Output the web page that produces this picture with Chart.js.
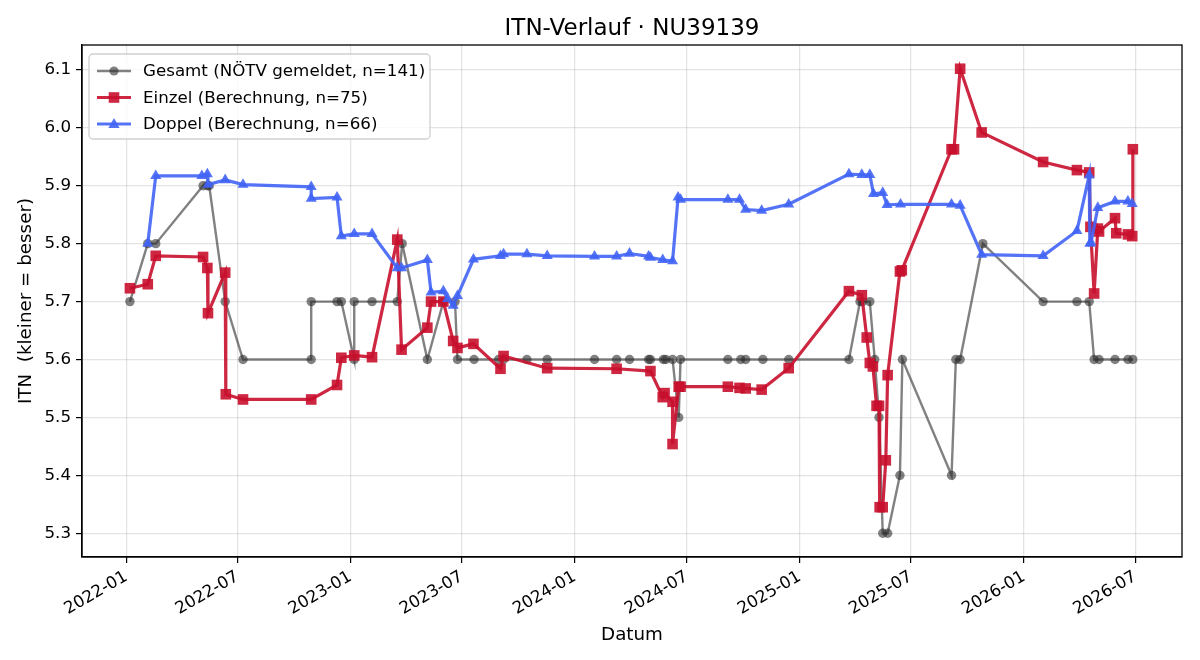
<!DOCTYPE html>
<html><head><meta charset="utf-8">
<script src="https://cdn.jsdelivr.net/npm/chart.js@4.4.0/dist/chart.umd.min.js"></script>
<style>html,body{margin:0;padding:0;background:#fff;}#wrap{width:1200px;height:660px;}</style>
</head><body><div id="wrap"><canvas id="c" width="1200" height="660"></canvas></div>
<script>
const gesamtDates = ['2022-01-07','2022-02-05','2022-02-18','2022-05-06','2022-05-13','2022-05-16','2022-06-11','2022-07-10','2022-10-29','2022-10-29','2022-12-10','2022-12-17','2023-01-07','2023-01-07','2023-02-05','2023-03-18','2023-03-26','2023-05-06','2023-06-01','2023-06-20','2023-06-24','2023-07-21','2023-08-30','2023-09-07','2023-10-15','2023-11-17','2024-02-02','2024-03-09','2024-03-30','2024-04-30','2024-05-03','2024-05-24','2024-05-28','2024-06-08','2024-06-18','2024-06-21','2024-09-06','2024-09-27','2024-10-05','2024-11-02','2024-12-14','2025-03-22','2025-04-09','2025-04-13','2025-04-25','2025-05-03','2025-05-10','2025-05-16','2025-05-24','2025-06-13','2025-06-17','2025-09-05','2025-09-12','2025-09-19','2025-10-26','2026-02-01','2026-03-28','2026-04-17','2026-04-25','2026-05-03','2026-05-29','2026-06-19','2026-06-27'];
const gesamtValues = [5.7,5.8,5.8,5.9,5.9,5.9,5.7,5.6,5.6,5.7,5.7,5.7,5.6,5.7,5.7,5.7,5.8,5.6,5.7,5.7,5.6,5.6,5.6,5.6,5.6,5.6,5.6,5.6,5.6,5.6,5.6,5.6,5.6,5.6,5.5,5.6,5.6,5.6,5.6,5.6,5.6,5.6,5.7,5.7,5.7,5.6,5.5,5.3,5.3,5.4,5.6,5.4,5.6,5.6,5.8,5.7,5.7,5.7,5.6,5.6,5.6,5.6,5.6];

const einzelDates = ['2022-01-07','2022-02-05','2022-02-18','2022-05-06','2022-05-13','2022-05-14','2022-06-11','2022-06-12','2022-07-10','2022-10-29','2022-12-10','2022-12-17','2023-01-07','2023-02-05','2023-03-18','2023-03-25','2023-05-06','2023-05-12','2023-06-01','2023-06-17','2023-06-24','2023-07-20','2023-09-02','2023-09-07','2023-11-17','2024-03-09','2024-05-03','2024-05-23','2024-05-26','2024-06-08','2024-06-08','2024-06-18','2024-06-21','2024-09-06','2024-09-25','2024-10-05','2024-10-31','2024-12-14','2025-03-22','2025-04-12','2025-04-20','2025-04-25','2025-04-30','2025-05-06','2025-05-10','2025-05-11','2025-05-16','2025-05-21','2025-05-24','2025-06-13','2025-06-16','2025-09-05','2025-09-09','2025-09-19','2025-10-24','2026-02-01','2026-03-28','2026-04-17','2026-04-19','2026-04-25','2026-05-01','2026-05-03','2026-05-29','2026-05-31','2026-06-19','2026-06-26','2026-06-27'];
const einzelValues = [5.723,5.730,5.779,5.777,5.758,5.680,5.750,5.540,5.531,5.531,5.556,5.603,5.607,5.604,5.807,5.617,5.655,5.700,5.700,5.632,5.620,5.627,5.584,5.606,5.585,5.584,5.580,5.535,5.542,5.527,5.454,5.553,5.553,5.553,5.551,5.550,5.548,5.585,5.718,5.711,5.638,5.594,5.588,5.520,5.520,5.345,5.345,5.426,5.573,5.752,5.754,5.963,5.963,6.102,5.992,5.941,5.927,5.923,5.829,5.714,5.826,5.821,5.844,5.818,5.816,5.813,5.963];

const doppelDates = ['2022-02-05','2022-02-18','2022-05-04','2022-05-13','2022-05-14','2022-06-11','2022-07-10','2022-10-29','2022-10-29','2022-12-10','2022-12-17','2023-01-07','2023-02-05','2023-03-18','2023-03-25','2023-05-06','2023-05-12','2023-06-01','2023-06-08','2023-06-17','2023-06-24','2023-07-20','2023-09-02','2023-09-07','2023-10-15','2023-11-17','2024-02-02','2024-03-09','2024-03-30','2024-04-30','2024-05-03','2024-05-23','2024-06-08','2024-06-17','2024-06-21','2024-09-06','2024-09-25','2024-10-05','2024-10-31','2024-12-14','2025-03-22','2025-04-12','2025-04-25','2025-05-01','2025-05-16','2025-05-23','2025-06-14','2025-09-05','2025-09-19','2025-10-24','2026-02-01','2026-03-28','2026-04-17','2026-04-18','2026-04-20','2026-05-01','2026-05-29','2026-06-19','2026-06-26'];
const doppelValues = [5.800,5.917,5.917,5.920,5.902,5.910,5.902,5.898,5.878,5.880,5.813,5.817,5.817,5.758,5.758,5.772,5.716,5.718,5.705,5.693,5.710,5.773,5.779,5.782,5.782,5.779,5.778,5.778,5.783,5.778,5.776,5.772,5.770,5.880,5.876,5.876,5.876,5.859,5.857,5.868,5.920,5.919,5.919,5.886,5.888,5.867,5.868,5.868,5.866,5.781,5.779,5.822,5.918,5.800,5.802,5.862,5.873,5.873,5.869];

const xTickLabels = ['2022-01','2022-07','2023-01','2023-07','2024-01','2024-07','2025-01','2025-07','2026-01','2026-07'];
const yTickValues = [5.3,5.4,5.5,5.6,5.7,5.8,5.9,6.0,6.1];
const seriesLabels = ['Gesamt (NÖTV gemeldet, n=141)','Einzel (Berechnung, n=75)','Doppel (Berechnung, n=66)'];

const FONT = 'DejaVu Sans';
const GREY = 'rgba(45,45,45,0.6)';
const RED = 'rgba(200,16,46,0.9)';
const BLUE = 'rgba(65,100,245,0.9)';

function pts(dates, vals){ return dates.map((d,i)=>({x: Date.parse(d), y: vals[i]})); }

const framePlugin = {
  id:'frame',
  afterDraw(chart){
    const ctx = chart.ctx, a = chart.chartArea;
    ctx.save();
    ctx.strokeStyle = '#000'; ctx.lineWidth = 1.3;
    ctx.strokeRect(a.left, a.top, a.right - a.left, a.bottom - a.top);
    // legend
    const x0 = a.left + 7, y0 = a.top + 9, w = 341, h = 85, r = 4;
    ctx.beginPath();
    ctx.moveTo(x0 + r, y0); ctx.lineTo(x0 + w - r, y0); ctx.arcTo(x0 + w, y0, x0 + w, y0 + r, r);
    ctx.lineTo(x0 + w, y0 + h - r); ctx.arcTo(x0 + w, y0 + h, x0 + w - r, y0 + h, r);
    ctx.lineTo(x0 + r, y0 + h); ctx.arcTo(x0, y0 + h, x0, y0 + h - r, r);
    ctx.lineTo(x0, y0 + r); ctx.arcTo(x0, y0, x0 + r, y0, r); ctx.closePath();
    ctx.fillStyle = 'rgba(255,255,255,0.8)'; ctx.fill();
    ctx.strokeStyle = '#d0d0d0'; ctx.lineWidth = 1.3; ctx.stroke();
    const rows = [y0 + 17, y0 + 43.5, y0 + 70];
    const cols = [GREY, RED, BLUE];
    const lws = [2.4, 3.2, 3.2];
    rows.forEach((yy, i) => {
      ctx.strokeStyle = cols[i]; ctx.lineWidth = lws[i];
      ctx.beginPath(); ctx.moveTo(x0 + 8, yy); ctx.lineTo(x0 + 42, yy); ctx.stroke();
      const mx = x0 + 25;
      ctx.fillStyle = cols[i];
      ctx.beginPath();
      if (i === 0) { ctx.arc(mx, yy, 4.6, 0, Math.PI * 2); }
      else if (i === 1) { ctx.rect(mx - 5.3, yy - 5.3, 10.6, 10.6); }
      else { ctx.moveTo(mx, yy - 6); ctx.lineTo(mx + 5.6, yy + 4); ctx.lineTo(mx - 5.6, yy + 4); ctx.closePath(); }
      ctx.fill();
      ctx.fillStyle = '#000'; ctx.font = '16.7px "' + FONT + '"';
      ctx.textBaseline = 'middle'; ctx.textAlign = 'left';
      ctx.fillText(seriesLabels[i], x0 + 54, yy + 1);
    });
    ctx.restore();
  }
};

new Chart(document.getElementById('c'), {
  type: 'line',
  data: {
    datasets: [
      { label: seriesLabels[0], data: pts(gesamtDates, gesamtValues), borderColor: GREY, backgroundColor: GREY,
        borderWidth: 2.4, pointStyle: 'circle', pointRadius: 4.7, pointBorderWidth: 0, pointBackgroundColor: GREY, order: 3, tension: 0 },
      { label: seriesLabels[1], data: pts(einzelDates, einzelValues), borderColor: RED, backgroundColor: RED,
        borderWidth: 3.2, pointStyle: 'rect', pointRadius: 7.5, pointBorderWidth: 0, pointBackgroundColor: RED, order: 2, tension: 0 },
      { label: seriesLabels[2], data: pts(doppelDates, doppelValues), borderColor: BLUE, backgroundColor: BLUE,
        borderWidth: 3.2, pointStyle: 'triangle', pointRadius: 6.4, pointBorderWidth: 0, pointBackgroundColor: BLUE, order: 1, tension: 0 }
    ]
  },
  options: {
    responsive: false, animation: false, devicePixelRatio: 1,
    layout: { padding: { left: 0, right: 18, top: 0, bottom: 0 } },
    plugins: {
      legend: { display: false },
      tooltip: { enabled: false },
      title: { display: true, fullSize: false, text: 'ITN-Verlauf · NU39139', color: '#000',
        font: { family: FONT, size: 23, weight: 'normal', lineHeight: 1.2 }, padding: { top: 15, bottom: 2.4 } }
    },
    scales: {
      x: {
        type: 'linear',
        min: Date.parse('2021-10-21'), max: Date.parse('2026-09-15'),
        afterBuildTicks: s => { s.ticks = xTickLabels.map(l => ({ value: Date.parse(l + '-01') })); },
        afterFit: s => { s.height = 103; },
        ticks: { autoSkip: false, minRotation: 30, maxRotation: 30, color: '#000', padding: 4,
          font: { family: FONT, size: 16.7 }, callback: (v, i) => xTickLabels[i] },
        grid: { color: 'rgba(176,176,176,0.35)', lineWidth: 1.2, tickColor: '#000', tickLength: 6, drawTicks: true },
        border: { display: true, color: '#000', width: 1.3 },
        title: { display: true, text: 'Datum', color: '#000', font: { family: FONT, size: 18.3 }, padding: { top: 0, bottom: 14 } }
      },
      y: {
        type: 'linear',
        min: 5.259, max: 6.143,
        afterBuildTicks: s => { s.ticks = yTickValues.map(v => ({ value: v })); },
        afterFit: s => { s.width = 82; },
        ticks: { color: '#000', padding: 5, font: { family: FONT, size: 16.7 }, callback: v => Number(v).toFixed(1) },
        grid: { color: 'rgba(176,176,176,0.35)', lineWidth: 1.2, tickColor: '#000', tickLength: 6, drawTicks: true },
        border: { display: true, color: '#000', width: 1.3 },
        title: { display: true, text: 'ITN  (kleiner = besser)', color: '#000', font: { family: FONT, size: 18.3 }, padding: { top: 15, bottom: 0 } }
      }
    }
  },
  plugins: [framePlugin]
});
</script></body></html>
